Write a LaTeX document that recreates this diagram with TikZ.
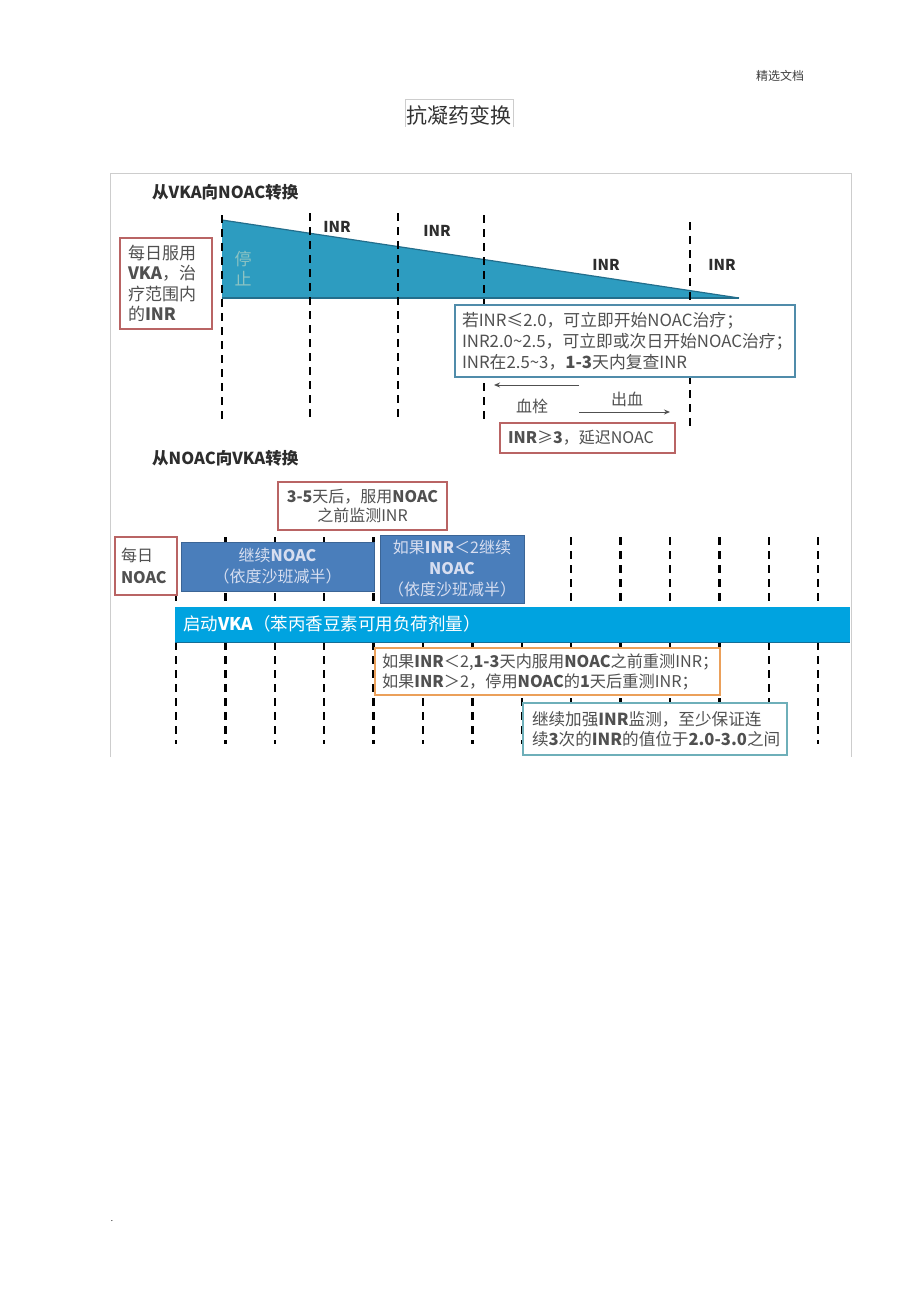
\documentclass[tikz,border=0pt]{standalone}
\usepackage{fontspec}
\setmainfont{Noto Sans CJK SC}
\usetikzlibrary{arrows.meta}
\definecolor{wedgefill}{RGB}{45,156,192}
\definecolor{wedgeedge}{RGB}{35,110,140}
\definecolor{redb}{RGB}{185,100,100}
\definecolor{tealb}{RGB}{80,140,170}
\definecolor{steel}{RGB}{74,126,187}
\definecolor{cyanbar}{RGB}{0,163,224}
\definecolor{cyanedge}{RGB}{20,110,150}
\definecolor{orangeb}{RGB}{235,160,90}
\definecolor{tealc}{RGB}{110,175,185}
\definecolor{txt}{RGB}{80,80,80}
\definecolor{headtxt}{RGB}{45,45,45}
\definecolor{framec}{RGB}{205,205,205}
\definecolor{pale}{RGB}{215,222,240}
\definecolor{stoptxt}{RGB}{140,195,195}
\tikzset{
  vdash/.style={line width=2.3pt, dash pattern=on 8pt off 6pt, black},
  box/.style={draw, line width=1.6pt, fill=white, inner sep=0pt, text=txt},
  redbox/.style={box, draw=redb},
  tealbox/.style={box, draw=tealb},
  orangebox/.style={box, draw=orangeb},
  teal2box/.style={box, draw=tealc},
  bluebox/.style={fill=steel, draw=steel!80!black, line width=0.6pt, inner sep=0pt, text=pale, align=center},
  heading/.style={anchor=west, inner sep=0pt, text=headtxt, font=\fontsize{16.5}{20}\selectfont\bfseries},
  inrlab/.style={inner sep=0pt, text=headtxt, font=\fontsize{15}{18}\selectfont\bfseries},
  plain/.style={inner sep=0pt, text=txt, font=\fontsize{16}{20}\selectfont},
  arr/.style={-{Stealth[length=6pt,width=5pt]}, line width=1pt, txt}
}
\begin{document}
\begin{tikzpicture}[x=1pt,y=-1pt]
\useasboundingbox[fill=white] (0,0) rectangle (920,1303);

% page header
\node[inner sep=0pt, text=black!75, font=\fontsize{12}{14}\selectfont] (hdr) at (780,76) {精选文档};
\node[inner sep=0pt, text=black!80, font=\fontsize{21}{24}\selectfont] (title) at (459,115) {抗凝药变换};
\draw[framec, line width=0.8pt] (405,127) -- (405,99) -- (513,99) -- (513,127);

% screenshot frame
\draw[framec, line width=1pt] (110,757) -- (110,173) -- (851,173) -- (851,757);

% ===== from VKA to NOAC =====
\node[heading] (h1) at (152,192) {从VKA向NOAC转换};

\fill[wedgefill] (222,220) -- (739,298) -- (222,298) -- cycle;
\draw[wedgeedge, line width=1.2pt] (222,220) -- (739,298);
\draw[wedgeedge, line width=1.2pt] (222,298) -- (739,298);

\draw[vdash] (222,215) -- (222,422);
\draw[vdash] (310,213) -- (310,422);
\draw[vdash] (398,213) -- (398,422);
\draw[vdash] (484,215) -- (484,424);
\draw[vdash] (690,222) -- (690,430);

\node[inrlab] (inr1) at (337,227) {INR};
\node[inrlab] (inr2) at (437,231) {INR};
\node[inrlab] (inr3) at (606,265) {INR};
\node[inrlab] (inr4) at (722,265) {INR};

\node[inner sep=0pt, text=stoptxt, font=\fontsize{17}{20}\selectfont] (stop1) at (243,259) {停};
\node[inner sep=0pt, text=stoptxt, font=\fontsize{17}{20}\selectfont] (stop2) at (243,279) {止};

\node[redbox, minimum width=92pt, minimum height=91pt, text width=76pt, align=left,
      font=\fontsize{17}{20.5}\selectfont] (vkabox) at (166,283.5)
  {每日服用\\\textbf{VKA}，治\\疗范围内\\的\textbf{INR}};

\node[tealbox, minimum width=340pt, minimum height=72pt, text width=326pt, align=left,
      font=\fontsize{16.8}{21}\selectfont] (rulebox) at (625,341)
  {\mbox{若INR≤2.0，可立即开始NOAC治疗；}\\\mbox{INR2.0\textasciitilde 2.5，可立即或次日开始NOAC治疗；}\\\mbox{INR在2.5\textasciitilde 3，\textbf{1-3}天内复查INR}};

\coordinate (thrS) at (579,385);
\coordinate (thrE) at (494,385);
\draw[arr] (thrS) -- (thrE);
\node[plain] (thr) at (532,406) {血栓};
\coordinate (bldS) at (579,412);
\coordinate (bldE) at (670,412);
\draw[arr] (bldS) -- (bldE);
\node[plain] (bld) at (627,399) {出血};

\node[redbox, minimum width=175pt, minimum height=30pt, text width=159pt, align=left,
      font=\fontsize{16}{20}\selectfont] (delaybox) at (587.5,438)
  {\mbox{\textbf{INR}≥\textbf{3}，延迟NOAC}};

% ===== from NOAC to VKA =====
\node[heading] (h2) at (152,458) {从NOAC向VKA转换};

\node[redbox, minimum width=169pt, minimum height=48pt, text width=160pt, align=center,
      font=\fontsize{16}{19}\selectfont] (checkbox) at (362.5,506)
  {\mbox{\textbf{3-5}天后，服用\textbf{NOAC}}\\之前监测INR};

% dashed day lines
\foreach \k in {0,...,13}{
  \draw[vdash] ({176+49.4*\k},537) -- ({176+49.4*\k},607);
  \draw[vdash] ({176+49.4*\k},642) -- ({176+49.4*\k},744);
}

\node[redbox, minimum width=62pt, minimum height=58pt, text width=50pt, align=left,
      font=\fontsize{16}{22}\selectfont] (noacbox) at (146,566)
  {每日\\\textbf{NOAC}};

\node[bluebox, minimum width=193pt, minimum height=49pt, text width=185pt,
      font=\fontsize{16}{21}\selectfont] (cont1) at (277.5,566.5)
  {继续\textbf{NOAC}\\（依度沙班减半）};

\node[bluebox, minimum width=144pt, minimum height=68pt, text width=140pt,
      font=\fontsize{16}{21}\selectfont] (cont2) at (452,569)
  {\mbox{如果\textbf{INR}＜2继续}\\\textbf{NOAC}\\（依度沙班减半）};

\node[fill=cyanbar, minimum width=675pt, minimum height=35pt, inner sep=0pt] (vkabar) at (512.5,624.5) {};
\draw[cyanedge, line width=1pt] (vkabar.south west) -- (vkabar.south east);
\node[anchor=west, inner sep=0pt, text=white, font=\fontsize{17.5}{20}\selectfont] (vkatxt) at (183,624)
  {启动\textbf{VKA}（苯丙香豆素可用负荷剂量）};

\node[orangebox, minimum width=345pt, minimum height=47pt, text width=331pt, align=left,
      font=\fontsize{16.2}{20}\selectfont] (retest) at (547.5,671.5)
  {\mbox{如果\textbf{INR}＜2,\textbf{1-3}天内服用\textbf{NOAC}之前重测INR；}\\\mbox{如果\textbf{INR}＞2，停用\textbf{NOAC}的\textbf{1}天后重测INR；}};

\node[teal2box, minimum width=264pt, minimum height=52pt, text width=246pt, align=left,
      font=\fontsize{16.6}{19.5}\selectfont] (monitor) at (655,729)
  {\mbox{继续加强\textbf{INR}监测，至少保证连}\\\mbox{续\textbf{3}次的\textbf{INR}的值位于\textbf{2.0-3.0}之间}};

% stray dot
\node[inner sep=0pt, font=\fontsize{8}{10}\selectfont] (dot) at (112,1221) {.};
\end{tikzpicture}
\end{document}
